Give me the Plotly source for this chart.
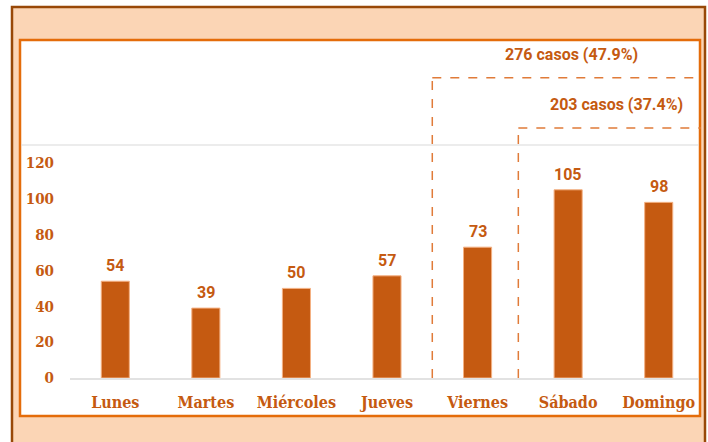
import plotly.graph_objects as go

days = ["Lunes", "Martes", "Miércoles", "Jueves", "Viernes", "Sábado", "Domingo"]
cases = [54, 39, 50, 57, 73, 105, 98]
y_ticks = [0, 20, 40, 60, 80, 100, 120]
bracket_labels = ["276 casos (47.9%)", "203 casos (37.4%)"]

BAR = "#C55A11"
TEXT = "#C55A11"
ORANGE = "#E46C0A"
PEACH = "#FBD5B5"
BROWN = "#984807"

W, H = 708, 442
L, R, T, B = 70, 704, 145, 378  # plot area in pixels
YMAX = 130


def px(x):
    return (x - L) / (R - L)


def py(y):
    return (B - y) / (B - T)


def cat_x(idx):
    return (idx + 0.5) / len(days)


fig = go.Figure()
fig.add_trace(go.Bar(
    x=days, y=cases,
    marker=dict(color=BAR, line=dict(color="#F4B183", width=1)),
    width=0.31,
    hoverinfo="x+y",
))

shapes = []
# outer peach frame
shapes.append(dict(type="rect", xref="paper", yref="paper",
                   x0=px(12), x1=px(705), y0=py(460), y1=py(7),
                   fillcolor=PEACH, line=dict(color=BROWN, width=2.5), layer="below"))
# inner white box
shapes.append(dict(type="rect", xref="paper", yref="paper",
                   x0=px(20), x1=px(700), y0=py(416), y1=py(40),
                   fillcolor="white", line=dict(color=ORANGE, width=2.5), layer="below"))
# top light line
shapes.append(dict(type="line", xref="paper", yref="paper",
                   x0=px(21), x1=px(699), y0=1, y1=1,
                   line=dict(color="#D9D9D9", width=1), layer="below"))
# baseline
shapes.append(dict(type="line", xref="paper", yref="paper",
                   x0=px(70), x1=px(699), y0=py(379), y1=py(379),
                   line=dict(color="#D9D9D9", width=1.5), layer="below"))

# dashed brackets
b1_x = cat_x(3.5)
b2_x = cat_x(4.45)
b1_y = 167.5 / YMAX
b2_y = 139.5 / YMAX
dash = dict(color="#E07B39", width=1.5, dash="dash")
shapes += [
    dict(type="line", xref="paper", yref="paper", x0=b1_x, x1=b1_x, y0=0, y1=b1_y, line=dash),
    dict(type="line", xref="paper", yref="paper", x0=b1_x, x1=px(701), y0=b1_y, y1=b1_y, line=dash),
    dict(type="line", xref="paper", yref="paper", x0=b2_x, x1=b2_x, y0=0, y1=b2_y, line=dash),
    dict(type="line", xref="paper", yref="paper", x0=b2_x, x1=px(701), y0=b2_y, y1=b2_y, line=dash),
]

annotations = []
for d, v in zip(days, cases):
    annotations.append(dict(x=d, y=v, xref="x", yref="y", text=str(v), showarrow=False,
                            yanchor="bottom", yshift=4,
                            font=dict(family="Roboto", size=16, color=TEXT, weight="bold")))
annotations.append(dict(x=px(571), y=py(54), xref="paper", yref="paper", text=bracket_labels[0],
                        xanchor="center", yanchor="middle", showarrow=False,
                        font=dict(family="Roboto", size=16, color=TEXT, weight="bold")))
annotations.append(dict(x=px(616), y=py(104), xref="paper", yref="paper", text=bracket_labels[1],
                        xanchor="center", yanchor="middle", showarrow=False,
                        font=dict(family="Roboto", size=16, color=TEXT, weight="bold")))

fig.update_layout(
    width=W, height=H,
    margin=dict(l=L, r=W - R, t=T, b=H - B, pad=0),
    paper_bgcolor="white",
    plot_bgcolor="rgba(0,0,0,0)",
    showlegend=False,
    bargap=0.69,
    shapes=shapes,
    annotations=annotations,
    xaxis=dict(
        showgrid=False, showline=False, zeroline=False, ticks="",
        tickfont=dict(family="DejaVu Serif Condensed, DejaVu Serif", size=16, color=TEXT, weight="bold"),
        ticklabelstandoff=13,
    ),
    yaxis=dict(
        range=[0, YMAX], tickvals=y_ticks, ticktext=[str(t) for t in y_ticks],
        showgrid=False, showline=False, zeroline=False, ticks="",
        tickfont=dict(family="DejaVu Serif Condensed, DejaVu Serif", size=15, color=TEXT, weight="bold"),
        ticklabelstandoff=15,
    ),
)

fig.write_html("out.html", config={"displayModeBar": False},
               post_script="document.body.style.margin='0';")
